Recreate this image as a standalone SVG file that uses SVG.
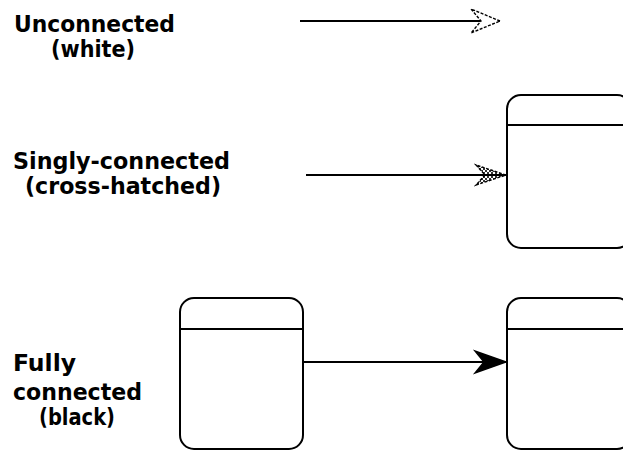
<svg xmlns="http://www.w3.org/2000/svg" width="623" height="451" viewBox="0 0 623 451">
<style>
.lbl{font-family:"DejaVu Sans",sans-serif;font-weight:bold;font-size:23px;fill:#000}
.box{fill:#fff;stroke:#000;stroke-width:2}
.div{stroke:#000;stroke-width:2}
.conn{stroke:#000;stroke-width:2;fill:none}
.head{stroke:#000;stroke-width:1.4;stroke-linejoin:miter}
</style>
<defs>
<pattern id="hatch" width="4" height="4" patternUnits="userSpaceOnUse">
<path d="M0,0 L4,4 M4,0 L0,4" stroke="#000" stroke-width="0.8"/>
</pattern>
<marker id="open" markerUnits="userSpaceOnUse" markerWidth="40" markerHeight="30" viewBox="-34 -15 40 30" refX="0" refY="0" orient="auto" overflow="visible">
<path class="head" d="M0,0 L-29,-12 L-19,0 L-29,12 Z" fill="#fff" stroke-dasharray="3 1.5"/>
</marker>
<marker id="hatched" markerUnits="userSpaceOnUse" markerWidth="40" markerHeight="30" viewBox="-34 -15 40 30" refX="0" refY="0" orient="auto" overflow="visible">
<path class="head" d="M0,0 L-30,-10 L-21,0 L-30,10 Z" fill="url(#hatch)" stroke-dasharray="3 1.5"/>
</marker>
<marker id="filled" markerUnits="userSpaceOnUse" markerWidth="40" markerHeight="30" viewBox="-34 -15 40 30" refX="0" refY="0" orient="auto" overflow="visible">
<path class="head" d="M0,0 L-31,-11 L-22,0 L-31,11 Z" fill="#000"/>
</marker>
</defs>
<g id="labels">
<g id="label-unconnected">
<text class="lbl" x="14" y="32" textLength="161" lengthAdjust="spacingAndGlyphs">Unconnected</text>
<text class="lbl" x="51" y="57" textLength="84" lengthAdjust="spacingAndGlyphs">(white)</text>
</g>
<g id="label-singly">
<text class="lbl" x="13" y="169" textLength="217" lengthAdjust="spacingAndGlyphs">Singly-connected</text>
<text class="lbl" x="25" y="194" textLength="196" lengthAdjust="spacingAndGlyphs">(cross-hatched)</text>
</g>
<g id="label-fully">
<text class="lbl" x="13" y="371" textLength="63" lengthAdjust="spacingAndGlyphs">Fully</text>
<text class="lbl" x="13" y="400" textLength="129" lengthAdjust="spacingAndGlyphs">connected</text>
<text class="lbl" x="39" y="425" textLength="76" lengthAdjust="spacingAndGlyphs">(black)</text>
</g>
</g>
<g id="box-singly-target">
<rect class="box" x="507" y="95" width="124" height="153" rx="14"/>
<line class="div" x1="507" y1="125" x2="631" y2="125"/>
</g>
<g id="box-fully-source">
<rect class="box" x="180" y="298" width="123" height="151" rx="14"/>
<line class="div" x1="180" y1="329" x2="303" y2="329"/>
</g>
<g id="box-fully-target">
<rect class="box" x="507" y="298" width="124" height="151" rx="14"/>
<line class="div" x1="507" y1="329" x2="631" y2="329"/>
</g>
<g id="connectors">
<line class="conn" x1="300" y1="21" x2="500" y2="21" marker-end="url(#open)"/>
<line class="conn" x1="306" y1="175" x2="506" y2="175" marker-end="url(#hatched)"/>
<line class="conn" x1="303" y1="362" x2="506" y2="362" marker-end="url(#filled)"/>
</g>
</svg>
